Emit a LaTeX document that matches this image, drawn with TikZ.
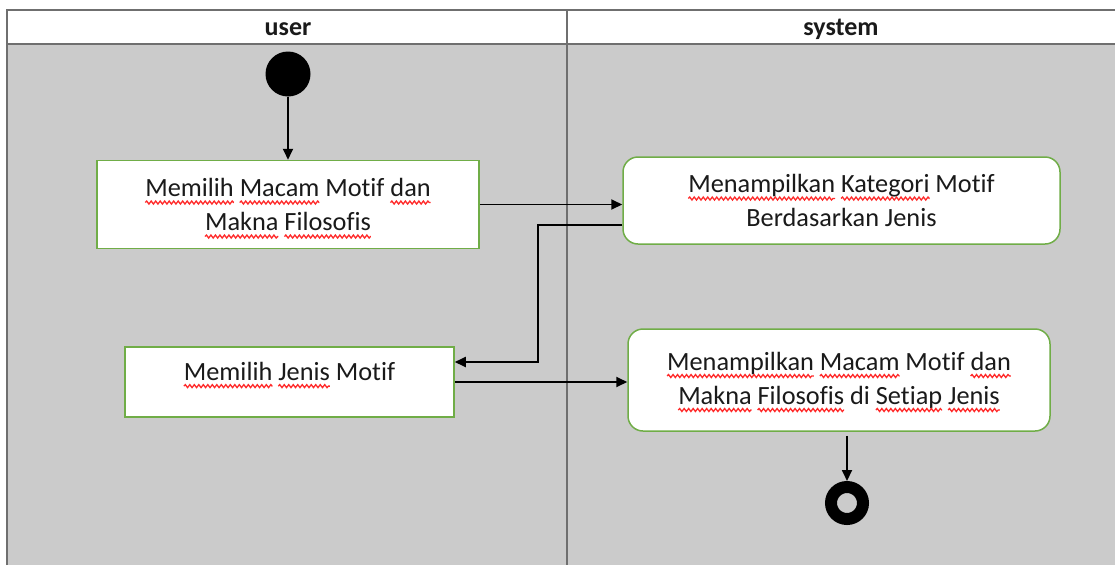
\documentclass[tikz,border=0pt]{standalone}
\usepackage{fontspec}
\setmainfont{Carlito}[Ligatures=CommonOff]
\usetikzlibrary{arrows.meta,decorations.pathmorphing}
\definecolor{lanefill}{HTML}{CBCBCB}
\definecolor{laneline}{HTML}{6F6F6F}
\definecolor{boxline}{HTML}{70AD47}
\definecolor{squig}{HTML}{FF2A2A}
\definecolor{ink}{HTML}{1A1A1A}
% red wavy underline under a word
\newcommand\spellmark[1]{\tikz[baseline=(w.base)]{%
  \node[inner sep=0pt, outer sep=0pt, draw=none, fill=none, minimum width=0pt,
        minimum height=0pt, text height=, text depth=, rounded corners=0pt, text=ink] (w) {#1};%
  \draw[overlay, squig, line width=1.3pt, rounded corners=0pt, decorate,
        decoration={snake, amplitude=1.5pt, segment length=4.5pt}]
    ([yshift=-6pt]w.base west) -- ([yshift=-6pt]w.base east);}}
\tikzset{
  lane/.style={draw=laneline, line width=1.6pt},
  lanehead/.style={font=\bfseries\fontsize{26}{30}\selectfont, text=ink, inner sep=0pt},
  actbox/.style={draw=boxline, line width=1.5pt, fill=white, inner sep=0pt,
    align=center, text=ink, font=\fontsize{26.3}{34}\selectfont},
  actround/.style={actbox, rounded corners=15pt},
  flow/.style={draw=black, line width=1.8pt, -{Triangle[length=11pt,width=10pt]}},
  startnode/.style={circle, fill=black, minimum size=45pt, inner sep=0pt},
  endnode/.style={circle, draw=black, line width=12pt, minimum size=32pt, inner sep=0pt}
}
\begin{document}
\begin{tikzpicture}[x=1pt, y=-1pt]
\useasboundingbox (0,0) rectangle (1115,565);
\fill[white] (0,0) rectangle (1115,565);
% swimlanes
\fill[lanefill] (7,44) rectangle (1115,565);
\draw[lane] (7,565) -- (7,10) -- (1115,10);
\draw[lane] (7,44) -- (1115,44);
\draw[lane, line width=1.2pt] (567,10) -- (567,565);
\node[lanehead] (huser) at (288,29) {user};
\node[lanehead] (hsys) at (841,29) {system};
% activities
\node[startnode] (start) at (288,74) {};
\node[actbox, minimum width=382pt, minimum height=88pt] (pick) at (288,204.5)
  {\spellmark{Memilih} \spellmark{Macam} Motif \spellmark{dan}\\ \spellmark{Makna} \spellmark{Filosofis}};
\node[actround, minimum width=437pt, minimum height=87pt] (cat) at (841.5,200.5)
  {\spellmark{Menampilkan} \spellmark{Kategori} Motif\\ Berdasarkan Jenis};
\node[actbox, minimum width=329pt, minimum height=70pt, text depth=22pt] (jenis) at (289.5,382)
  {\spellmark{Memilih} \spellmark{Jenis} Motif};
\node[actround, minimum width=422pt, minimum height=102pt] (show) at (839,380)
  {\spellmark{Menampilkan} \spellmark{Macam} Motif \spellmark{dan}\\ \spellmark{Makna} \spellmark{Filosofis} di \spellmark{Setiap} \spellmark{Jenis}};
\node[endnode] (stop) at (847,503) {};
% transitions
\draw[flow] (start) -- (pick);
\draw[flow] (pick.east) -- (pick.east -| cat.west);
\coordinate (turn) at (538,362);
\draw[flow] ([yshift=-24.5pt]cat.west) -| (turn) -- (turn -| jenis.east);
\draw[flow] (jenis.east) -- (jenis.east -| show.west);
\draw[flow] (stop.north |- show.south) ++(0,4) -- (stop.north);
\end{tikzpicture}
\end{document}
